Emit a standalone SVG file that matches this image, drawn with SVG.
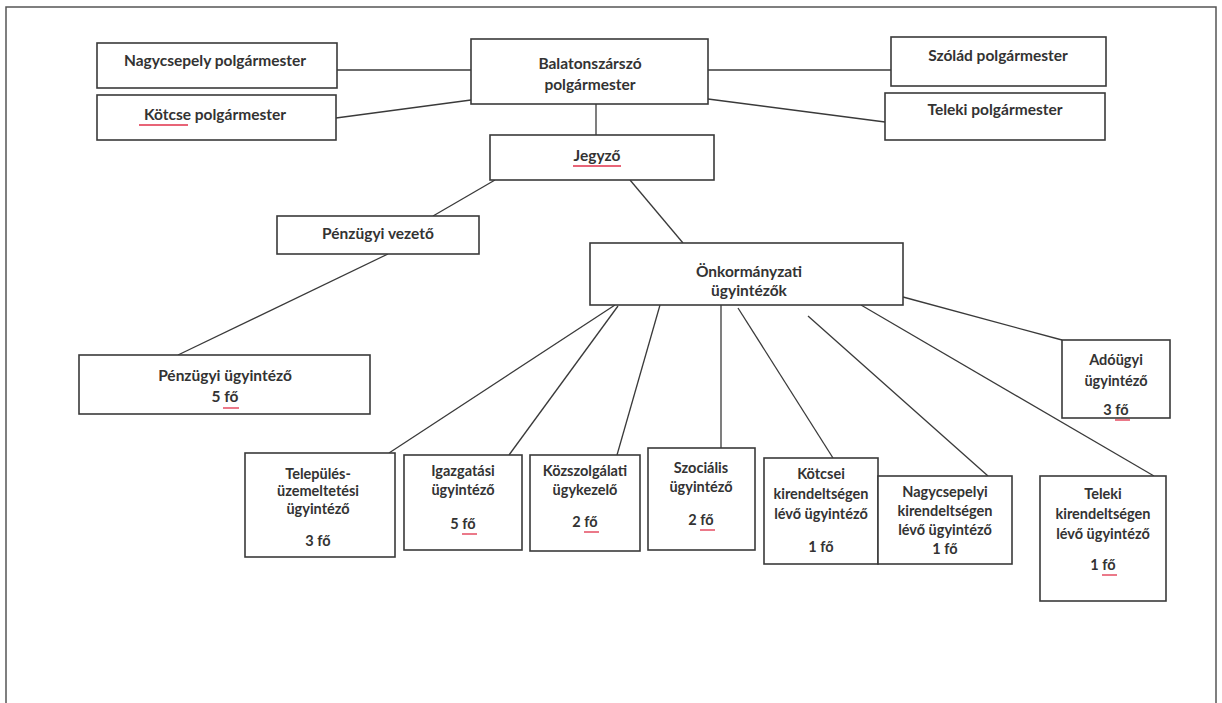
<svg xmlns="http://www.w3.org/2000/svg" width="1222" height="703" viewBox="0 0 1222 703">
<style>
.box{fill:#fff;stroke:#3a3a3a;stroke-width:1.6}
.t{font-family:Lato,"Liberation Sans",sans-serif;font-weight:bold;font-size:15.5px;fill:#333;text-anchor:middle}
.s{font-size:14.5px}
.c{stroke:#3a3a3a;stroke-width:1.3;fill:none}
.u{stroke:#e0304a;stroke-width:1.3}
</style>
<rect x="0" y="0" width="1222" height="703" fill="#fff"/>
<rect x="6" y="7" width="1210" height="720" fill="none" stroke="#555" stroke-width="1.5"/>
<g id="connectors">
<line class="c" x1="337" y1="70" x2="471" y2="70"/>
<line class="c" x1="336" y1="118" x2="471" y2="100"/>
<line class="c" x1="708" y1="70" x2="891" y2="70"/>
<line class="c" x1="708" y1="99" x2="885" y2="122"/>
<line class="c" x1="596" y1="104" x2="596" y2="135"/>
<line class="c" x1="495" y1="180" x2="433" y2="216"/>
<line class="c" x1="388" y1="254" x2="178" y2="355"/>
<line class="c" x1="630" y1="180" x2="683" y2="243"/>
<line class="c" x1="903" y1="297" x2="1062" y2="340"/>
<line class="c" x1="615" y1="305" x2="389" y2="453"/>
<line class="c" x1="618" y1="306" x2="509" y2="455"/>
<line class="c" x1="660" y1="305" x2="617" y2="455"/>
<line class="c" x1="721" y1="305" x2="721" y2="448"/>
<line class="c" x1="738" y1="308" x2="833" y2="458"/>
<line class="c" x1="808" y1="316" x2="988" y2="476"/>
<line class="c" x1="861" y1="305" x2="1154" y2="476"/>
</g>
<g id="n-nagycsepely-pm"><rect class="box" x="97" y="43" width="240" height="45"/><text class="t" x="215" y="66">Nagycsepely polgármester</text></g>
<g id="n-kotcse-pm"><rect class="box" x="97" y="95" width="239" height="45"/><text class="t" x="215" y="120">Kötcse polgármester</text><line class="u" x1="139" y1="125" x2="188" y2="125"/></g>
<g id="n-balaton-pm"><rect class="box" x="471" y="39" width="237" height="65"/><text class="t" x="590" y="69">Balatonszárszó</text><text class="t" x="590" y="90">polgármester</text></g>
<g id="n-szolad-pm"><rect class="box" x="891" y="37" width="215" height="49"/><text class="t" x="998" y="61">Szólád polgármester</text></g>
<g id="n-teleki-pm"><rect class="box" x="885" y="93" width="220" height="47"/><text class="t" x="995" y="115">Teleki polgármester</text></g>
<g id="n-jegyzo"><rect class="box" x="490" y="135" width="224" height="45"/><text class="t" x="597" y="161">Jegyző</text><line class="u" x1="573" y1="166" x2="621" y2="166"/></g>
<g id="n-penzugyi-vezeto"><rect class="box" x="277" y="216" width="202" height="38"/><text class="t" x="378" y="239">Pénzügyi vezető</text></g>
<g id="n-penzugyi-ugyintezo"><rect class="box" x="79" y="355" width="291" height="59"/><text class="t" x="225" y="381">Pénzügyi ügyintéző</text><text class="t" x="225" y="402">5 fő</text><line class="u" x1="223" y1="408" x2="239" y2="408"/></g>
<g id="n-onkormanyzati"><rect class="box" x="590" y="243" width="313" height="62"/><text class="t" x="749" y="277">Önkormányzati</text><text class="t" x="749" y="296">ügyintézők</text></g>
<g id="n-adougyi"><rect class="box" x="1062" y="340" width="108" height="78"/><text class="t s" x="1116" y="365">Adóügyi</text><text class="t s" x="1116" y="386">ügyintéző</text><text class="t s" x="1116" y="415">3 fő</text><line class="u" x1="1115" y1="420" x2="1130" y2="420"/></g>
<g id="n-telepules"><rect class="box" x="245" y="453" width="150" height="104"/><text class="t s" x="318" y="479">Település-</text><text class="t s" x="318" y="496">üzemeltetési</text><text class="t s" x="318" y="514">ügyintéző</text><text class="t s" x="318" y="546">3 fő</text></g>
<g id="n-igazgatasi"><rect class="box" x="404" y="455" width="118" height="95"/><text class="t s" x="463" y="476">Igazgatási</text><text class="t s" x="463" y="495">ügyintéző</text><text class="t s" x="463" y="529">5 fő</text><line class="u" x1="462" y1="534" x2="477" y2="534"/></g>
<g id="n-kozszolgalati"><rect class="box" x="530" y="455" width="110" height="96"/><text class="t s" x="585" y="476">Közszolgálati</text><text class="t s" x="585" y="495">ügykezelő</text><text class="t s" x="585" y="527">2 fő</text><line class="u" x1="584" y1="532" x2="599" y2="532"/></g>
<g id="n-szocialis"><rect class="box" x="648" y="448" width="107" height="102"/><text class="t s" x="701" y="473">Szociális</text><text class="t s" x="701" y="492">ügyintéző</text><text class="t s" x="701" y="525">2 fő</text><line class="u" x1="700" y1="530" x2="715" y2="530"/></g>
<g id="n-kotcsei"><rect class="box" x="764" y="458" width="114" height="106"/><text class="t s" x="821" y="479">Kötcsei</text><text class="t s" x="821" y="499">kirendeltségen</text><text class="t s" x="821" y="519">lévő ügyintéző</text><text class="t s" x="821" y="552">1 fő</text></g>
<g id="n-nagycsepelyi"><rect class="box" x="878" y="476" width="134" height="88"/><text class="t s" x="945" y="497">Nagycsepelyi</text><text class="t s" x="945" y="516">kirendeltségen</text><text class="t s" x="945" y="535">lévő ügyintéző</text><text class="t s" x="945" y="554">1 fő</text></g>
<g id="n-teleki-kir"><rect class="box" x="1040" y="476" width="126" height="125"/><text class="t s" x="1103" y="499">Teleki</text><text class="t s" x="1103" y="519">kirendeltségen</text><text class="t s" x="1103" y="539">lévő ügyintéző</text><text class="t s" x="1103" y="570">1 fő</text><line class="u" x1="1102" y1="575" x2="1117" y2="575"/></g>
</svg>
